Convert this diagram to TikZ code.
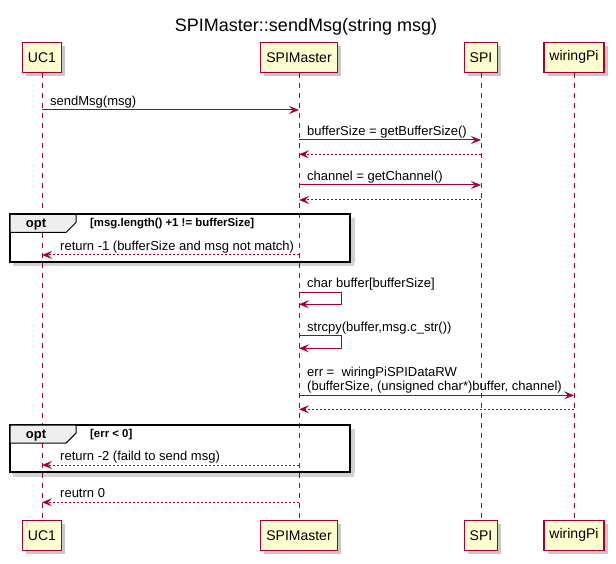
\documentclass[tikz,border=0pt]{standalone}
\usepackage{fontspec}
\setmainfont{Liberation Sans}
\usetikzlibrary{arrows.meta,shadows}
\definecolor{umlred}{HTML}{A80036}
\definecolor{umlfill}{HTML}{FEFECE}
\definecolor{tabgray}{HTML}{EEEEEE}
\tikzset{
  part/.style={draw=umlred, fill=umlfill, line width=1.4pt, minimum height=30pt, inner sep=0pt,
    font=\fontsize{14}{16}\selectfont,
    drop shadow={shadow xshift=3.5pt, shadow yshift=-3.5pt, fill=black, opacity=.22}},
  lifeline/.style={draw=umlred, line width=1pt, dash pattern=on 5pt off 5pt},
  msg/.style={draw=umlred, line width=1pt, -{Stealth[length=10pt,width=8pt,inset=4pt]}},
  ret/.style={msg, dash pattern=on 2pt off 2pt},
  lbl/.style={anchor=base west, inner sep=0pt, font=\fontsize{13}{14.5}\selectfont},
  frm/.style={draw=black, line width=2pt},
  tabshape/.style={draw=black, fill=tabgray, line width=1pt},
  optlbl/.style={anchor=base, inner sep=0pt, font=\bfseries\fontsize{13}{15}\selectfont},
  cond/.style={anchor=base west, inner sep=0pt, font=\bfseries\fontsize{11.4}{13}\selectfont},
  frameshadow/.style={fill=black, opacity=.18},
}
\begin{document}
\begin{tikzpicture}[x=1pt,y=-1pt]
\useasboundingbox (0,0) rectangle (616,564);
% title
\node[anchor=base, inner sep=0pt, font=\fontsize{18}{20}\selectfont] (title) at (306,31.7) {SPIMaster::sendMsg(string msg)};
% participants
\node[part, minimum width=39.5pt] (uc1t) at (42,57.25) {UC1};
\node[part, minimum width=76.5pt] (spimt) at (299,57.25) {SPIMaster};
\node[part, minimum width=33.5pt] (spit) at (481,57.25) {SPI};
\node[part, minimum width=60pt] (wpt) at (574,57.25) {wiringPi};
\node[part, minimum width=39.5pt] (uc1b) at (42,535.25) {UC1};
\node[part, minimum width=76.5pt] (spimb) at (299,535.25) {SPIMaster};
\node[part, minimum width=33.5pt] (spib) at (481,535.25) {SPI};
\node[part, minimum width=60pt] (wpb) at (574,535.25) {wiringPi};
% lifelines
\draw[lifeline] (uc1t.south) -- (uc1b.north);
\draw[lifeline] (spimt.south) -- (spimb.north);
\draw[lifeline] (spit.south) -- (spib.north);
\draw[lifeline] (wpt.south) -- (wpb.north);
% frame 1
\fill[frameshadow] (13,263) rectangle (354,266.5);
\fill[frameshadow] (351,218) rectangle (354.5,263);
\draw[frm] (10,214.3) rectangle (350,261.7);
\draw[tabshape] (10,214.3) -- (76,214.3) -- (76,222.5) -- (66,232.5) -- (10,232.5) -- cycle;
\node[optlbl] (opt1) at (36,228) {opt};
\node[cond] (cond1) at (90,227) {[msg.length() +1 != bufferSize]};
% frame 2
\fill[frameshadow] (13,473) rectangle (354,476.5);
\fill[frameshadow] (351,429) rectangle (354.5,473);
\draw[frm] (10,425) rectangle (350,471.7);
\draw[tabshape] (10,425) -- (76,425) -- (76,433.2) -- (66,443.2) -- (10,443.2) -- cycle;
\node[optlbl] (opt2) at (36,438.7) {opt};
\node[cond] (cond2) at (90,437.7) {[err < 0]};
% message coordinates
\coordinate (m1a) at (42,110);   \coordinate (m1b) at (299,110);
\coordinate (m2a) at (299,140);  \coordinate (m2b) at (481,140);
\coordinate (m3a) at (481,154.3);\coordinate (m3b) at (299,154.3);
\coordinate (m4a) at (299,185);  \coordinate (m4b) at (481,185);
\coordinate (m5a) at (481,200);  \coordinate (m5b) at (299,200);
\coordinate (m6a) at (299,255);  \coordinate (m6b) at (42,255);
\coordinate (s1a) at (299,292.3); \coordinate (s1b) at (341.7,292.3);
\coordinate (s1c) at (341.7,304.3); \coordinate (s1d) at (299,304.3);
\coordinate (s2a) at (299,335.7); \coordinate (s2b) at (341.7,335.7);
\coordinate (s2c) at (341.7,348.3); \coordinate (s2d) at (299,348.3);
\coordinate (m9a) at (299,395.3);  \coordinate (m9b) at (574,395.3);
\coordinate (m10a) at (574,409.3); \coordinate (m10b) at (299,409.3);
\coordinate (m11a) at (299,465);   \coordinate (m11b) at (42,465);
\coordinate (m12a) at (299,502.3); \coordinate (m12b) at (42,502.3);
% messages
\draw[msg] (m1a) -- (m1b);
\node[lbl] (l1) at (50,105.5) {sendMsg(msg)};
\draw[msg] (m2a) -- (m2b);
\node[lbl] (l2) at (307,135.5) {bufferSize = getBufferSize()};
\draw[ret] (m3a) -- (m3b);
\draw[msg] (m4a) -- (m4b);
\node[lbl] (l4) at (307,180.5) {channel = getChannel()};
\draw[ret] (m5a) -- (m5b);
\draw[ret] (m6a) -- (m6b);
\node[lbl] (l6) at (60,250.5) {return -1 (bufferSize and msg not match)};
\draw[msg] (s1a) -- (s1b) -- (s1c) -- (s1d);
\node[lbl] (l7) at (307,287.8) {char buffer[bufferSize]};
\draw[msg] (s2a) -- (s2b) -- (s2c) -- (s2d);
\node[lbl] (l8) at (307,331.3) {strcpy(buffer,msg.c\_str())};
\draw[msg] (m9a) -- (m9b);
\node[lbl] (l9a) at (307,376.3) {err =\ \ wiringPiSPIDataRW};
\node[lbl] (l9b) at (307,390.8) {(bufferSize, (unsigned char*)buffer, channel)};
\draw[ret] (m10a) -- (m10b);
\draw[ret] (m11a) -- (m11b);
\node[lbl] (l11) at (60,460.5) {return -2 (faild to send msg)};
\draw[ret] (m12a) -- (m12b);
\node[lbl] (l12) at (60,497.8) {reutrn 0};
\end{tikzpicture}
\end{document}
